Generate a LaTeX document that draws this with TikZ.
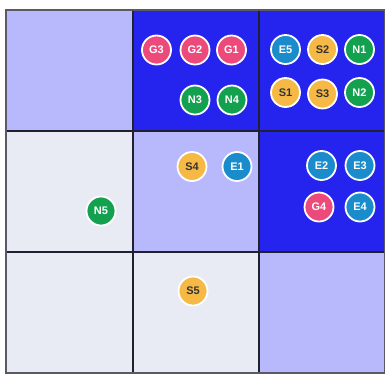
\documentclass[tikz,border=0pt]{standalone}
\usepackage{fontspec}
\setmainfont{Liberation Sans}
\begin{document}
\begin{tikzpicture}[x=1pt,y=-1pt,
  lav/.style={fill=lavcol},
  blu/.style={fill=bluecol},
  gry/.style={fill=graycol},
  tok/.style={circle,draw=white,line width=1.8pt,minimum size=29pt,inner sep=0pt,font=\bfseries\fontsize{11}{11}\selectfont},
  gtok/.style={tok,fill=gcol,text=white},
  etok/.style={tok,fill=ecol,text=white},
  stok/.style={tok,fill=scol,text=stext},
  ntok/.style={tok,fill=ncol,text=white}]
\definecolor{lavcol}{HTML}{B8B8FC}
\definecolor{bluecol}{HTML}{2424EE}
\definecolor{graycol}{HTML}{E9EBF4}
\definecolor{gcol}{HTML}{EC4A7B}
\definecolor{ecol}{HTML}{1A8CCB}
\definecolor{scol}{HTML}{F6B945}
\definecolor{stext}{HTML}{333333}
\definecolor{ncol}{HTML}{13A150}
\definecolor{gridcol}{HTML}{202030}
\definecolor{framecol}{HTML}{5A5A66}
\useasboundingbox (0,0) rectangle (385,376);
% cells
\fill[lav] (6,10) rectangle (133,131);
\fill[blu] (133,10) rectangle (259,131);
\fill[blu] (259,10) rectangle (385,131);
\fill[gry] (6,131) rectangle (133,252);
\fill[lav] (133,131) rectangle (259,252);
\fill[blu] (259,131) rectangle (385,252);
\fill[gry] (6,252) rectangle (133,373);
\fill[gry] (133,252) rectangle (259,373);
\fill[lav] (259,252) rectangle (385,373);
\draw[gridcol,line width=1.2pt] (133,10) -- (133,373) (259,10) -- (259,373)
  (6,131) -- (385,131) (6,252) -- (385,252);
\draw[framecol,line width=1.2pt] (6,10) rectangle (385,373);
% tokens
\node[gtok] (G3) at (156.5,50) {G3};
\node[gtok] (G2) at (195,50) {G2};
\node[gtok] (G1) at (231.5,50) {G1};
\node[ntok] (N3) at (195,100) {N3};
\node[ntok] (N4) at (232,100) {N4};
\node[etok] (E5) at (285.5,49.5) {E5};
\node[stok] (S2) at (322.5,49.5) {S2};
\node[ntok] (N1) at (359.5,49.5) {N1};
\node[stok] (S1) at (285.5,92.5) {S1};
\node[stok] (S3) at (322.5,94) {S3};
\node[ntok] (N2) at (359.5,92.5) {N2};
\node[stok] (S4) at (192,166.5) {S4};
\node[etok] (E1) at (237,166.5) {E1};
\node[etok] (E2) at (321.5,165.5) {E2};
\node[etok] (E3) at (360,165.5) {E3};
\node[gtok] (G4) at (319,207) {G4};
\node[etok] (E4) at (360,207) {E4};
\node[ntok] (N5) at (101,211) {N5};
\node[stok] (S5) at (193,291) {S5};
\end{tikzpicture}
\end{document}
